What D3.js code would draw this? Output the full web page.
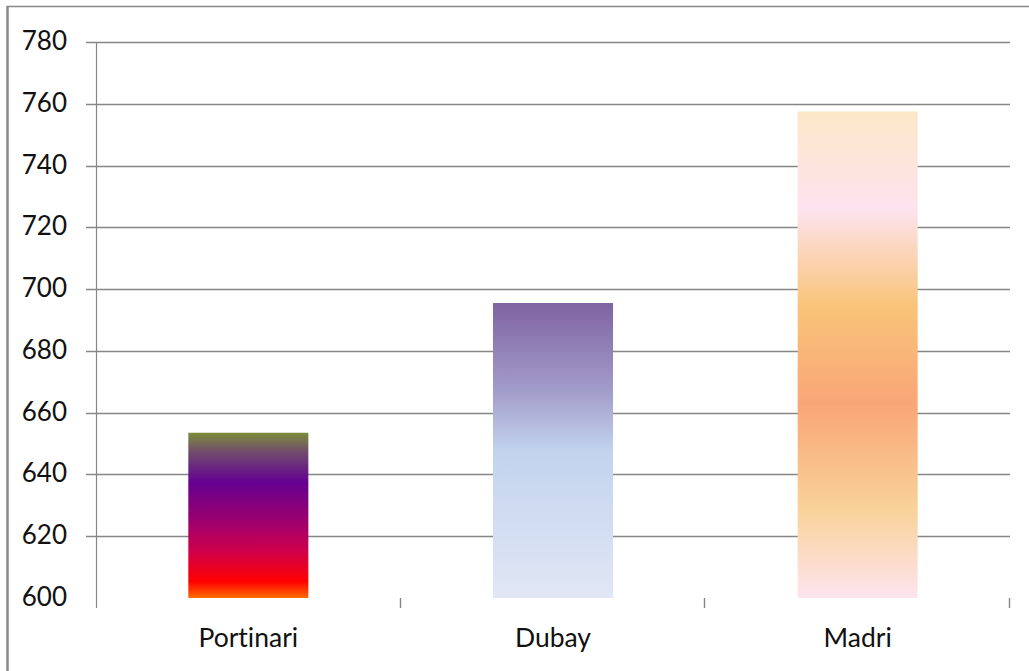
<!DOCTYPE html>
<html>
<head>
<meta charset="utf-8">
<script src="https://cdn.jsdelivr.net/npm/d3@7/dist/d3.min.js"></script>
<style>
  html, body { margin: 0; padding: 0; background: #fff; }
  svg { display: block; }
  text { font-family: Lato, "Open Sans", sans-serif; fill: #111; font-variant-ligatures: none; }
</style>
</head>
<body>
<svg id="chart" width="1029" height="671"></svg>
<script>
// Chart data
const categories = ["Portinari", "Dubay", "Madri"];
const values = [653.5, 695.5, 757.5];
const yTicks = [600, 620, 640, 660, 680, 700, 720, 740, 760, 780];

// Per-bar vertical gradient stops (offset from top, colour)
const gradientStops = [
  [[0, "#7b8d3a"], [0.12, "#704a6e"], [0.3, "#650090"], [0.55, "#a0006c"], [0.72, "#d0004a"], [0.9, "#ff0000"], [1, "#ff6a00"]],
  [[0, "#7f63a2"], [0.3, "#a39dca"], [0.5, "#c2d3ee"], [1, "#e1e7f5"]],
  [[0, "#fbe8c7"], [0.2, "#fde3ef"], [0.4, "#f9c479"], [0.6, "#f9a677"], [0.82, "#f9d39a"], [1, "#fde4ef"]]
];

const svg = d3.select("#chart");
const margin = { left: 96, right: 1010, top: 42, bottom: 598 };

const x = d3.scaleBand().domain(categories).range([margin.left, margin.right]).paddingInner(0.606).paddingOuter(0.303);
const xTickScale = d3.scaleLinear().domain([0, categories.length]).range([margin.left, margin.right]);
const y = d3.scaleLinear().domain([600, 780]).range([margin.bottom, margin.top]);

// Outer frame (top and left edges)
svg.append("line").attr("x1", 7).attr("x2", 1029).attr("y1", 6.5).attr("y2", 6.5)
  .attr("stroke", "#888").attr("stroke-width", 1.3);
svg.append("line").attr("x1", 7.5).attr("x2", 7.5).attr("y1", 6).attr("y2", 671)
  .attr("stroke", "#888").attr("stroke-width", 2.5);

// Gradients
const defs = svg.append("defs");
gradientStops.forEach((stops, i) => {
  const g = defs.append("linearGradient").attr("id", "grad" + i)
    .attr("x1", 0).attr("y1", 0).attr("x2", 0).attr("y2", 1);
  stops.forEach(([o, c]) => g.append("stop").attr("offset", o).attr("stop-color", c));
});

// Horizontal gridlines above the baseline, extending left as tick marks
svg.append("g").selectAll("line").data(yTicks.filter(d => d > 600)).join("line")
  .attr("x1", margin.left - 10).attr("x2", margin.right)
  .attr("y1", d => Math.round(y(d)) + 0.5).attr("y2", d => Math.round(y(d)) + 0.5)
  .attr("stroke", "#868686").attr("stroke-width", 1.4);

// Y axis line
svg.append("line").attr("x1", margin.left + 0.5).attr("x2", margin.left + 0.5)
  .attr("y1", margin.top).attr("y2", margin.bottom + 10)
  .attr("stroke", "#868686").attr("stroke-width", 1.2);

// Category tick marks between bands
svg.append("g").selectAll("line").data(d3.range(1, categories.length + 1)).join("line")
  .attr("x1", d => Math.round(xTickScale(d)) - 0.5).attr("x2", d => Math.round(xTickScale(d)) - 0.5)
  .attr("y1", margin.bottom).attr("y2", margin.bottom + 10)
  .attr("stroke", "#868686").attr("stroke-width", 1.4);

// Y tick labels
svg.append("g").selectAll("text").data(yTicks).join("text")
  .attr("x", 67).attr("y", d => y(d) + 8)
  .attr("text-anchor", "end")
  .attr("font-size", 26).text(d => d);

// Bars
svg.append("g").selectAll("rect").data(values).join("rect")
  .attr("x", (d, i) => x(categories[i]))
  .attr("width", x.bandwidth())
  .attr("y", d => y(d))
  .attr("height", d => y(600) - y(d))
  .attr("fill", (d, i) => `url(#grad${i})`);

// Category labels
svg.append("g").selectAll("text").data(categories).join("text")
  .attr("x", d => x(d) + x.bandwidth() / 2).attr("y", 647)
  .attr("text-anchor", "middle").attr("font-size", 26.5).text(d => d);
</script>
</body>
</html>
